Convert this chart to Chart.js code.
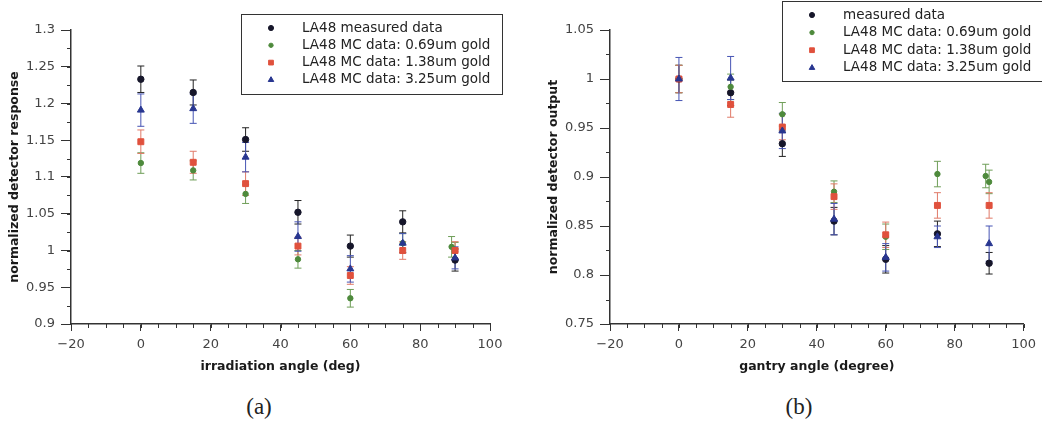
<!DOCTYPE html>
<html lang="en">
<head>
<meta charset="utf-8">
<title>LA48 angular response</title>
<script src="https://cdn.jsdelivr.net/npm/chart.js"></script>
<style>
  body { margin: 0; background: #fff; width: 1042px; height: 423px; position: relative; overflow: hidden; }
  canvas { position: absolute; top: 0; }
  #chartA { left: 0; }
  #chartB { left: 520px; }
  .caption { position: absolute; top: 393px; font-family: "Liberation Serif", serif; font-size: 23px; color: #222; transform: translateX(-50%); line-height: 28px; }
</style>
</head>
<body>

<canvas id="chartA" width="520" height="385"></canvas>
<canvas id="chartB" width="522" height="385"></canvas>
<div class="caption" style="left:259px">(a)</div>
<div class="caption" style="left:799px">(b)</div>

<script>
// ---- data ----
// (a) irradiation angle, normalized detector response
const anglesA      = [0, 15, 30, 45, 60, 75, 90];
const measuredA    = [1.233, 1.215, 1.151, 1.052, 1.006, 1.039, 0.987];
const measuredErrA = [0.018, 0.017, 0.016, 0.016, 0.015, 0.015, 0.015];
const anglesGreenA = [0, 15, 30, 45, 60, 75, 89, 90];
const gold069A     = [1.119, 1.109, 1.077, 0.988, 0.935, 1.010, 1.005, 0.999];
const gold069ErrA  = [0.014, 0.013, 0.013, 0.012, 0.012, 0.013, 0.014, 0.012];
const gold138A     = [1.148, 1.120, 1.091, 1.006, 0.966, 1.000, 1.000];
const gold138ErrA  = [0.016, 0.015, 0.016, 0.012, 0.012, 0.012, 0.012];
const gold325A     = [1.191, 1.193, 1.127, 1.019, 0.975, 1.010, 0.990];
const gold325ErrA  = [0.022, 0.020, 0.020, 0.020, 0.018, 0.013, 0.015];

// (b) gantry angle, normalized detector output
const anglesB      = [0, 15, 30, 45, 60, 75, 90];
const measuredB    = [1.000, 0.986, 0.934, 0.855, 0.816, 0.842, 0.812];
const measuredErrB = [0.014, 0.013, 0.013, 0.014, 0.014, 0.013, 0.011];
const anglesGreenB = [0, 15, 30, 45, 60, 75, 89, 90];
const gold069B     = [1.000, 0.992, 0.964, 0.885, 0.839, 0.903, 0.901, 0.895];
const gold069ErrB  = [0.014, 0.013, 0.012, 0.011, 0.013, 0.013, 0.012, 0.012];
const gold138B     = [1.000, 0.974, 0.951, 0.880, 0.841, 0.871, 0.871];
const gold138ErrB  = [0.014, 0.013, 0.013, 0.013, 0.013, 0.013, 0.013];
const gold325B     = [1.000, 1.001, 0.947, 0.857, 0.818, 0.839, 0.832];
const gold325ErrB  = [0.022, 0.022, 0.018, 0.016, 0.014, 0.011, 0.018];

const labelsA = ['LA48 measured data', 'LA48 MC data: 0.69um gold', 'LA48 MC data: 1.38um gold', 'LA48 MC data: 3.25um gold'];
const labelsB = ['measured data', 'LA48 MC data: 0.69um gold', 'LA48 MC data: 1.38um gold', 'LA48 MC data: 3.25um gold'];

// ---- plugins ----
// vertical error bars with caps, drawn under the markers
const errorBars = {
  id: 'errorBars',
  beforeDatasetsDraw(chart) {
    const { ctx, scales: { x, y } } = chart;
    chart.data.datasets.forEach((ds, i) => {
      if (!ds.errors || !chart.isDatasetVisible(i)) return;
      ctx.save();
      ctx.strokeStyle = ds.errorColor;
      ctx.lineWidth = 1;
      ctx.beginPath();
      ds.data.forEach((p, j) => {
        const px = x.getPixelForValue(p.x);
        const top = y.getPixelForValue(p.y + ds.errors[j]);
        const bot = y.getPixelForValue(p.y - ds.errors[j]);
        ctx.moveTo(px, top); ctx.lineTo(px, bot);
        ctx.moveTo(px - 3.5, top); ctx.lineTo(px + 3.5, top);
        ctx.moveTo(px - 3.5, bot); ctx.lineTo(px + 3.5, bot);
      });
      ctx.stroke();
      ctx.restore();
    });
  }
};

// small minor ticks on both axes
const minorTicks = {
  id: 'minorTicks',
  afterDraw(chart, args, o) {
    const { ctx, chartArea: a, scales: { x, y } } = chart;
    ctx.save();
    ctx.strokeStyle = '#333';
    ctx.lineWidth = 1;
    ctx.beginPath();
    for (let v = x.min; v <= x.max + 1e-9; v += o.xStep) {
      const px = Math.round(x.getPixelForValue(v)) + 0.5;
      ctx.moveTo(px, a.bottom); ctx.lineTo(px, a.bottom + o.length);
    }
    for (let v = y.min; v <= y.max + 1e-9; v += o.yStep) {
      const py = Math.round(y.getPixelForValue(v)) + 0.5;
      ctx.moveTo(a.left, py); ctx.lineTo(a.left - o.length, py);
    }
    ctx.stroke();
    ctx.restore();
  }
};

// framed legend placed where the figure has it
const boxLegend = {
  id: 'boxLegend',
  afterDraw(chart, args, o) {
    const ctx = chart.ctx;
    ctx.save();
    ctx.fillStyle = '#fff';
    ctx.fillRect(o.left, o.top, o.width, o.height);
    ctx.strokeStyle = '#333';
    ctx.lineWidth = 1;
    ctx.strokeRect(o.left + 0.5, o.top + 0.5, o.width, o.height);
    ctx.font = '13.5px "DejaVu Sans"';
    ctx.textBaseline = 'middle';
    chart.data.datasets.forEach((ds, i) => {
      const yy = o.top + o.firstRow + i * o.rowGap;
      ctx.fillStyle = ds.backgroundColor;
      ctx.strokeStyle = ds.borderColor;
      ctx.lineWidth = 1;
      Chart.helpers.drawPoint(ctx, { pointStyle: ds.pointStyle, radius: ds.pointRadius * 0.8, borderWidth: 1, rotation: 0 }, o.markerX, yy);
      ctx.fillStyle = '#222';
      ctx.fillText(ds.label, o.textX, yy);
    });
    ctx.restore();
  }
};

// ---- helpers ----
function pts(xs, ys) {
  return xs.map((v, i) => ({ x: v, y: ys[i] }));
}

function fmt(v) {
  return parseFloat(v.toFixed(3)).toString().replace('-', '\u2212');
}

function makeSets(labels, xs, xsGreen, m, mErr, g, gErr, r, rErr, b, bErr) {
  return [
    { label: labels[0], data: pts(xs, m), errors: mErr, errorColor: '#222',
      pointStyle: 'circle', pointRadius: 3.2, backgroundColor: '#16162a', borderColor: '#16162a', order: 3 },
    { label: labels[1], data: pts(xsGreen, g), errors: gErr, errorColor: '#6f9e58',
      pointStyle: 'circle', pointRadius: 2.7, backgroundColor: '#4e8a3c', borderColor: '#4e8a3c', order: 2 },
    { label: labels[2], data: pts(xs, r), errors: rErr, errorColor: '#e07a68',
      pointStyle: 'rect', pointRadius: 4.2, backgroundColor: '#e0513d', borderColor: '#e0513d', order: 1 },
    { label: labels[3], data: pts(xs, b), errors: bErr, errorColor: '#4654b4',
      pointStyle: 'triangle', pointRadius: 4, backgroundColor: '#283690', borderColor: '#283690', order: 0 }
  ];
}

function makeChart(id, datasets, yMin, yMax, xTitle, yTitle, padLeft, padRight, legend) {
  const tickFont = { family: 'DejaVu Sans', size: 13 };
  const titleFont = { family: 'DejaVu Sans', size: 12.5, weight: 'bold' };
  return new Chart(document.getElementById(id), {
    type: 'scatter',
    data: { datasets: datasets },
    options: {
      responsive: false,
      animation: false,
      showLine: false,
      layout: { padding: { left: padLeft, right: padRight, top: 30, bottom: 0 } },
      plugins: {
        legend: { display: false },
        tooltip: { enabled: false },
        minorTicks: { xStep: 5, yStep: 0.025, length: 4 },
        boxLegend: legend
      },
      scales: {
        x: {
          type: 'linear', min: -20, max: 100,
          border: { color: '#333', width: 1.5 },
          grid: { drawOnChartArea: false, tickLength: 7, color: '#333' },
          ticks: { stepSize: 20, color: '#444', font: tickFont, padding: 6, maxRotation: 0, callback: fmt },
          title: { display: true, text: xTitle, color: '#1a1a1a', font: titleFont, padding: { top: 0, bottom: 10.5 } },
          afterFit: s => { s.height = 61; }
        },
        y: {
          type: 'linear', min: yMin, max: yMax,
          border: { color: '#333', width: 1.5 },
          grid: { drawOnChartArea: false, tickLength: 10, color: '#333' },
          ticks: { stepSize: 0.05, color: '#444', font: tickFont, padding: 6, callback: fmt },
          title: { display: true, text: yTitle, color: '#1a1a1a', font: titleFont, padding: { top: 7.5, bottom: 0 } },
          afterFit: s => { s.width = 71; }
        }
      }
    },
    plugins: [errorBars, minorTicks, boxLegend]
  });
}

makeChart('chartA',
  makeSets(labelsA, anglesA, anglesGreenA, measuredA, measuredErrA, gold069A, gold069ErrA, gold138A, gold138ErrA, gold325A, gold325ErrA),
  0.9, 1.3, 'irradiation angle (deg)', 'normalized detector response', 0, 30,
  { left: 241, top: 14, width: 261, height: 80, firstRow: 14, rowGap: 17.3, markerX: 271, textX: 302 });

makeChart('chartB',
  makeSets(labelsB, anglesB, anglesGreenB, measuredB, measuredErrB, gold069B, gold069ErrB, gold138B, gold138ErrB, gold325B, gold325ErrB),
  0.75, 1.05, 'gantry angle (degree)', 'normalized detector output', 19, 13,
  { left: 262, top: 1, width: 300, height: 80, firstRow: 14, rowGap: 17.6, markerX: 292, textX: 323 });
</script>
</body>
</html>
